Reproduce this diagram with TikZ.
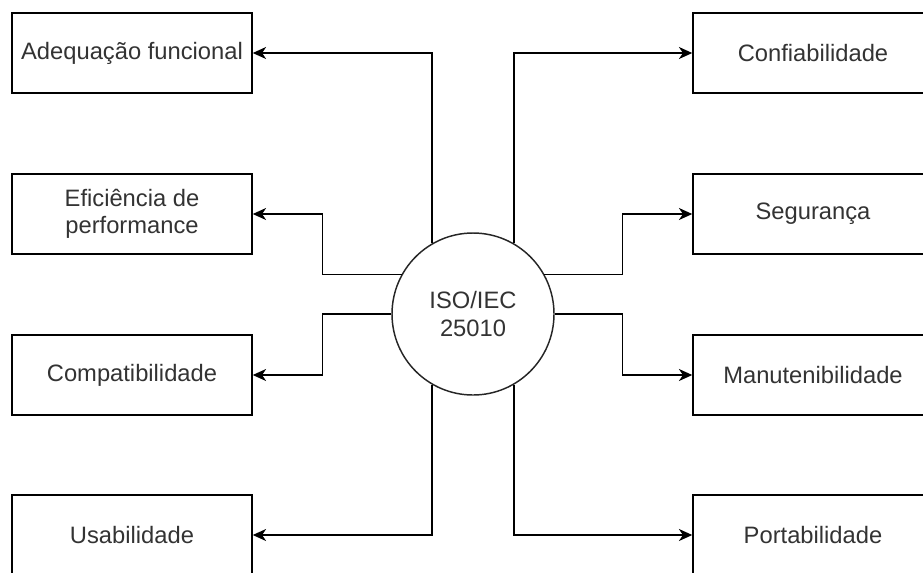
\documentclass[tikz,border=0pt]{standalone}
\usepackage{fontspec}
\setmainfont{Liberation Sans}
\usetikzlibrary{arrows.meta,calc}

\begin{document}
\begin{tikzpicture}[
		x=0.75pt, y=-0.75pt,
		q/.style = {rectangle, draw=black, fill=white, line width=1.1pt, minimum width=180pt, minimum height=60pt, align=center, text=black!80, font=\fontsize{17.8}{20.5}\selectfont},
		c/.style = {circle, draw=black!85, fill=white, line width=1.1pt, minimum size=121.5pt, inner sep=0pt, align=center, text=black!80, font=\fontsize{17.8}{20.5}\selectfont},
		r/.style = {-{Stealth[length=10pt, width=9pt, inset=3pt]}, line width=1.1pt}
		]
		
		\useasboundingbox (0,0) rectangle (923,572);
		
		% === === Nodes === ===
		\node[c]	(iso)	at	(473, 314)	{ISO/IEC\\25010};
		
		\node[q]	(adeq)	at	(132, 53)	{Adequação funcional};
		\node[q]	(efic)	at	(132, 214)	{Eficiência de\\performance};
		\node[q]	(comp)	at	(132, 375)	{Compatibilidade};
		\node[q]	(usab)	at	(132, 535)	{Usabilidade};
		
		\node[q]	(conf)	at	(813, 53)	{Confiabilidade};
		\node[q]	(segu)	at	(813, 214)	{Segurança};
		\node[q]	(manu)	at	(813, 375)	{Manutenibilidade};
		\node[q]	(port)	at	(813, 535)	{Portabilidade};
		
		
		
		% === === Lines === ===
		\draw[r]	(iso.120)	|-	(adeq.east);
		\draw[r]	(iso.151)	-|	($(efic.east)+(70,0)$)	--	(efic.east);
		\draw[r]	(iso.180)	-|	($(comp.east)+(70,0)$)	--	(comp.east);
		\draw[r]	(iso.240)	|-	(usab.east);
		
		\draw[r]	(iso.60)	|-	(conf.west);
		\draw[r]	(iso.29)	-|	($(segu.west)+(-70,0)$)	--	(segu.west);
		\draw[r]	(iso.0)		-|	($(manu.west)+(-70,0)$)	--	(manu.west);
		\draw[r]	(iso.300)	|-	(port.west);
		
	\end{tikzpicture}
\end{document}
